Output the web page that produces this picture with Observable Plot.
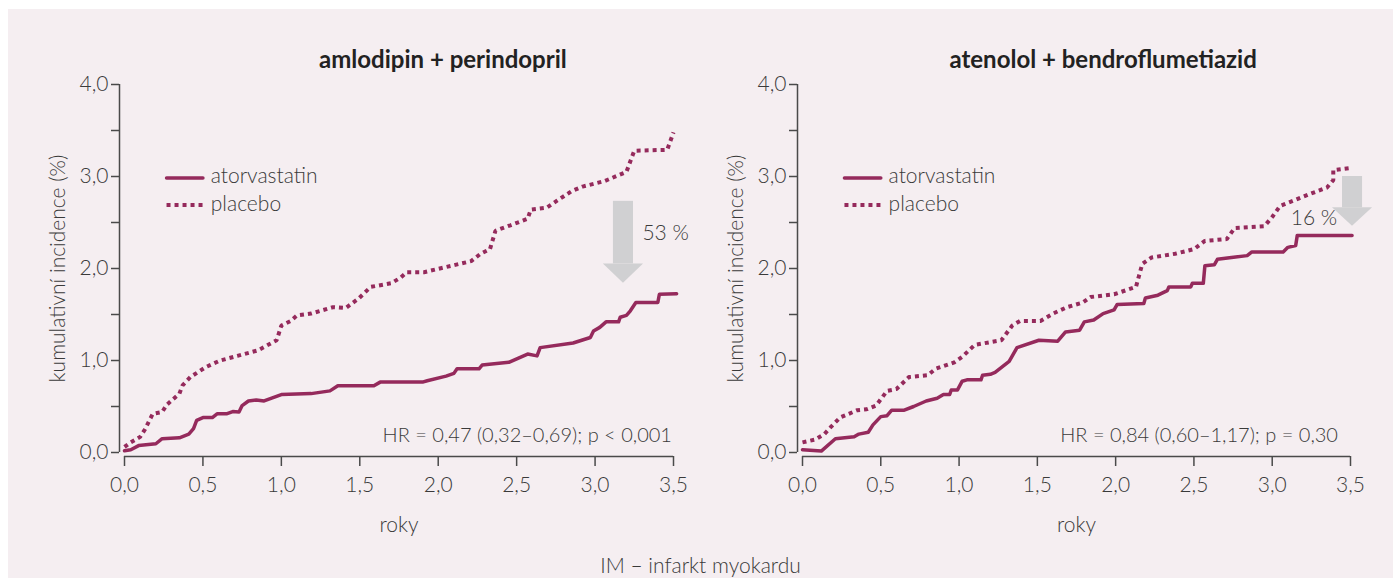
<!DOCTYPE html>
<html>
<head>
<meta charset="utf-8">
<script src="https://cdn.jsdelivr.net/npm/d3@7"></script>
<script src="https://cdn.jsdelivr.net/npm/@observablehq/plot@0.6"></script>
<style>
  html, body { margin: 0; padding: 0; background: #ffffff; }
  #bg { position: absolute; left: 8px; top: 9px; width: 1385px; height: 569px; background: #f5eef1; }
  .panel { position: absolute; top: 0; }
  #caption { position: absolute; left: 8px; width: 1385px; top: 552px; text-align: center;
    font-family: Lato, "Open Sans", sans-serif; font-weight: 300; font-size: 21px; color: #3a3a3a; }
</style>
</head>
<body>
<div id="bg"></div>
<div id="left" class="panel" style="left:0px"></div>
<div id="right" class="panel" style="left:690px"></div>
<div id="caption">IM – infarkt myokardu</div>
<script>
// ---------- data ----------
const xTicks = [0, 0.5, 1, 1.5, 2, 2.5, 3, 3.5];
const yTicks = [0, 0.5, 1, 1.5, 2, 2.5, 3, 3.5, 4];
const seriesNames = ["atorvastatin", "placebo"];
const panelTitles = ["amlodipin + perindopril", "atenolol + bendroflumetiazid"];
const hrLabels = ["HR = 0,47 (0,32–0,69); p < 0,001", "HR = 0,84 (0,60–1,17); p = 0,30"];
const reductionLabels = ["53 %", "16 %"];
const xLabel = "roky";
const yLabel = "kumulativní incidence (%)";

// amlodipin + perindopril
const amloAtorvastatin = [[0,0.02],[0.04,0.03],[0.09,0.075],[0.2,0.095],[0.24,0.15],[0.35,0.16],[0.41,0.2],[0.44,0.26],[0.46,0.35],[0.5,0.38],[0.56,0.38],[0.59,0.42],[0.65,0.42],[0.69,0.445],[0.73,0.44],[0.75,0.51],[0.79,0.56],[0.84,0.57],[0.89,0.56],[1.0,0.63],[1.19,0.64],[1.31,0.67],[1.36,0.725],[1.59,0.725],[1.63,0.765],[1.9,0.765],[1.93,0.78],[2.05,0.83],[2.1,0.86],[2.12,0.91],[2.26,0.91],[2.28,0.95],[2.45,0.98],[2.57,1.07],[2.63,1.05],[2.65,1.14],[2.86,1.19],[2.97,1.25],[2.99,1.32],[3.03,1.36],[3.07,1.42],[3.15,1.42],[3.16,1.47],[3.2,1.49],[3.225,1.54],[3.26,1.63],[3.4,1.63],[3.41,1.72],[3.52,1.725]];
const amloPlacebo = [[0,0.06],[0.04,0.11],[0.1,0.17],[0.13,0.25],[0.18,0.42],[0.24,0.44],[0.27,0.52],[0.35,0.64],[0.37,0.73],[0.42,0.82],[0.52,0.93],[0.61,1.0],[0.72,1.05],[0.85,1.11],[0.97,1.22],[1.0,1.38],[1.06,1.43],[1.1,1.49],[1.19,1.51],[1.33,1.58],[1.41,1.57],[1.49,1.67],[1.57,1.8],[1.7,1.84],[1.76,1.9],[1.8,1.96],[1.91,1.96],[2.21,2.08],[2.27,2.16],[2.33,2.21],[2.365,2.41],[2.46,2.47],[2.57,2.54],[2.59,2.64],[2.69,2.66],[2.76,2.74],[2.85,2.84],[2.92,2.89],[3.06,2.95],[3.2,3.05],[3.25,3.28],[3.46,3.29],[3.5,3.48]];

// atenolol + bendroflumetiazid
const atenAtorvastatin = [[0,0.03],[0.12,0.015],[0.21,0.15],[0.33,0.17],[0.36,0.2],[0.42,0.22],[0.45,0.3],[0.5,0.39],[0.54,0.4],[0.57,0.46],[0.65,0.46],[0.71,0.5],[0.79,0.56],[0.86,0.59],[0.9,0.63],[0.94,0.63],[0.95,0.68],[0.99,0.68],[1.02,0.775],[1.05,0.79],[1.14,0.79],[1.15,0.84],[1.2,0.85],[1.23,0.87],[1.32,0.99],[1.34,1.05],[1.37,1.14],[1.51,1.22],[1.63,1.21],[1.68,1.31],[1.77,1.33],[1.8,1.42],[1.86,1.44],[1.92,1.51],[1.99,1.55],[2.01,1.61],[2.18,1.62],[2.19,1.68],[2.27,1.71],[2.33,1.76],[2.34,1.8],[2.48,1.8],[2.49,1.84],[2.56,1.84],[2.57,2.03],[2.63,2.04],[2.65,2.1],[2.74,2.12],[2.84,2.14],[2.87,2.18],[3.07,2.18],[3.1,2.23],[3.15,2.25],[3.16,2.36],[3.51,2.36]];
const atenPlacebo = [[0,0.11],[0.08,0.14],[0.14,0.2],[0.18,0.275],[0.24,0.38],[0.35,0.46],[0.41,0.47],[0.47,0.51],[0.54,0.67],[0.6,0.69],[0.68,0.82],[0.8,0.84],[0.85,0.91],[0.97,0.98],[1.02,1.04],[1.1,1.17],[1.27,1.22],[1.34,1.38],[1.39,1.43],[1.52,1.43],[1.6,1.51],[1.69,1.58],[1.79,1.63],[1.84,1.69],[1.99,1.72],[2.13,1.8],[2.17,2.05],[2.23,2.12],[2.38,2.16],[2.5,2.21],[2.57,2.3],[2.71,2.32],[2.76,2.44],[2.95,2.46],[3.0,2.56],[3.05,2.68],[3.14,2.74],[3.24,2.81],[3.35,2.88],[3.39,2.96],[3.39,3.07],[3.49,3.09]];

// annotation anchors (data units)
const titleX = [2.03, 1.92];
const hrX = [3.49, 3.42];
const reductionPos = [[3.45, 2.38], [3.267, 2.55]];
// arrow: [xCenter, shaftHalfWidth, headHalfWidth, shaftTop, headTop, tip]
const arrows = [[3.181, 0.064, 0.128, 2.73, 2.05, 1.84], [3.513, 0.064, 0.128, 3.0, 2.66, 2.46]];

// ---------- drawing ----------
const LINE = "#952a5c";
const AXIS = "#4a4a4a";
const TEXT = "#3a3a3a";
const ARROW = "#d0d0d2";
const FONT = "Lato, 'Open Sans', sans-serif";
const comma = d => d.toFixed(1).replace(".", ",");
const toObj = arr => arr.map(([x, y]) => ({x, y}));

function panel(i, ator, plac, width, ml, mr) {
  const [ax, sw, hw, sTop, hTop, tip] = arrows[i];
  const shaft = [{x1: ax - sw, x2: ax + sw, y1: hTop, y2: sTop}];
  const head = [{x: ax - hw, y1: hTop, y2: hTop}, {x: ax, y1: hTop, y2: tip}, {x: ax + hw, y1: hTop, y2: hTop}];
  const legendSolid = [{x: 0.268, y: 2.985}, {x: 0.5, y: 2.985}];
  const legendDot = [{x: 0.268, y: 2.69}, {x: 0.5, y: 2.69}];
  return Plot.plot({
    width, height: 578,
    marginLeft: ml, marginRight: mr, marginTop: 84, marginBottom: 126,
    x: {domain: [0, 3.5]},
    y: {domain: [0, 4]},
    style: {background: "transparent", fontFamily: FONT, fontSize: "21px", fontWeight: 300, color: TEXT, overflow: "visible"},
    marks: [
      // axes
      Plot.ruleX([{x: 0, y1: 0, y2: 4}], {x: "x", y1: "y1", y2: "y2", dx: -5, stroke: AXIS, strokeWidth: 1.5}),
      Plot.axisY({ticks: yTicks, tickSize: 8, dx: -5, tickPadding: 3, stroke: AXIS, strokeWidth: 1.5,
        tickFormat: d => Number.isInteger(d) ? comma(d) : "", label: null, fontSize: 21}),
      Plot.ruleY([{y: 0, x1: 0, x2: 3.5}], {y: "y", x1: "x1", x2: "x2", dy: 4, stroke: AXIS, strokeWidth: 1.5}),
      Plot.axisX({ticks: xTicks, tickSize: 10, dy: 4, tickPadding: 11, stroke: AXIS, strokeWidth: 1.5,
        tickFormat: comma, label: null, fontSize: 21}),
      Plot.text([yLabel], {frameAnchor: "left", textAnchor: "middle", rotate: -90, dx: -66, fontSize: 21}),
      Plot.text([xLabel], {frameAnchor: "bottom", dy: 79, fontSize: 21}),
      // title
      Plot.text([panelTitles[i]], {x: titleX[i], y: 4.26, fontWeight: "bold", fontSize: 24, fill: "#222"}),
      // arrow
      Plot.rect(shaft, {x1: "x1", x2: "x2", y1: "y1", y2: "y2", fill: ARROW}),
      Plot.areaY(head, {x: "x", y1: "y1", y2: "y2", fill: ARROW}),
      Plot.text([reductionLabels[i]], {x: reductionPos[i][0], y: reductionPos[i][1], fontSize: 21}),
      // HR
      Plot.text([hrLabels[i]], {x: hrX[i], y: 0.18, textAnchor: "end", fontSize: 20}),
      // series
      Plot.line(toObj(plac), {x: "x", y: "y", stroke: LINE, strokeWidth: 4, strokeDasharray: "4,4", strokeLinecap: "butt", strokeLinejoin: "miter"}),
      Plot.line(toObj(ator), {x: "x", y: "y", stroke: LINE, strokeWidth: 3.5}),
      // legend
      Plot.line(legendSolid, {x: "x", y: "y", stroke: LINE, strokeWidth: 3.5}),
      Plot.line(legendDot, {x: "x", y: "y", stroke: LINE, strokeWidth: 4, strokeDasharray: "4,4", strokeLinecap: "butt"}),
      Plot.text([seriesNames[0]], {x: 0.55, y: 3.0, textAnchor: "start", fontSize: 21}),
      Plot.text([seriesNames[1]], {x: 0.55, y: 2.7, textAnchor: "start", fontSize: 21})
    ]
  });
}

document.getElementById("left").append(panel(0, amloAtorvastatin, amloPlacebo, 690, 124, 17));
document.getElementById("right").append(panel(1, atenAtorvastatin, atenPlacebo, 703, 112, 43));
</script>
</body>
</html>
